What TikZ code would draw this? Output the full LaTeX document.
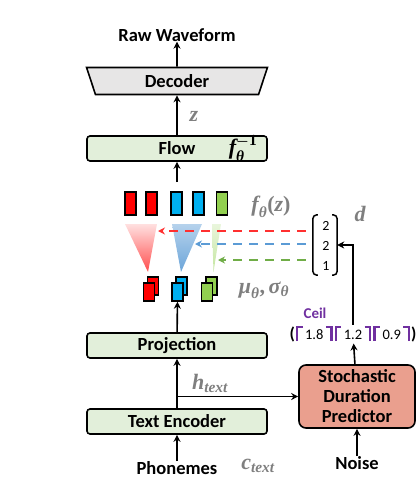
\documentclass[tikz,border=0pt]{standalone}
\usepackage{amsmath}
\usepackage[no-math]{fontspec}
\setmainfont{Carlito}
\setsansfont{Carlito}
\newfontfamily\lserif{Liberation Serif}
\newcommand\lb[1]{\text{\lserif\bfseries\itshape #1}}
\newcommand\lu[1]{\text{\lserif\bfseries #1}}
\usetikzlibrary{arrows.meta,shapes.geometric}
\definecolor{boxgreen}{HTML}{E2EFDA}
\definecolor{decgray}{HTML}{E7E6E6}
\definecolor{sdpfill}{HTML}{EA9F8E}
\definecolor{labgray}{HTML}{7F7F7F}
\definecolor{ceilc}{HTML}{7030A0}
\definecolor{barred}{HTML}{FF0000}
\definecolor{barblue}{HTML}{00B0F0}
\definecolor{bargreen}{HTML}{92D050}
\definecolor{dred}{HTML}{FF3030}
\definecolor{dblue}{HTML}{5B9BD5}
\definecolor{dgreen}{HTML}{70AD47}
\newcommand\lcl{\textcolor{ceilc}{\rule[-1.5pt]{2.2pt}{15.5pt}\rule[11.8pt]{4.5pt}{2.2pt}}}
\newcommand\rcl{\textcolor{ceilc}{\rule[11.8pt]{4.5pt}{2.2pt}\rule[-1.5pt]{2.2pt}{15.5pt}}}
\newcommand\grp[1]{\lcl\hspace{2.5pt}#1\hspace{2.5pt}\rcl}
\begin{document}
\begin{tikzpicture}[x=1pt,y=-1pt,
  txt/.style={font=\bfseries\fontsize{18.5}{20}\selectfont,inner sep=0pt},
  box/.style={draw,line width=1.6pt,rounded corners=3pt,fill=boxgreen,minimum width=180pt,minimum height=25pt,font=\bfseries\fontsize{18.5}{20}\selectfont,inner sep=0pt},
  arr/.style={-{Stealth[length=7pt,width=7pt]},line width=1.6pt},
  darr/.style={-{Stealth[length=7pt,width=7pt]},line width=1.8pt,dash pattern=on 9pt off 7pt},
  lbl/.style={text=labgray,inner sep=0pt,font=\fontsize{22}{24}\selectfont},
  bar/.style={draw,line width=1.5pt,minimum width=11pt,minimum height=23pt,inner sep=0pt},
  cell/.style={draw,line width=1.5pt,minimum width=11pt,minimum height=18pt,inner sep=0pt},
  num/.style={inner sep=0pt,font=\fontsize{14}{16}\selectfont}
]
\useasboundingbox (0,0) rectangle (416,495);

% top column
\node[txt] (raw) at (177,35) {Raw Waveform};
\node[trapezium,trapezium angle=75,shape border rotate=180,trapezium stretches=true,
  draw,line width=1.6pt,fill=decgray,minimum width=181pt,minimum height=27pt,
  font=\bfseries\fontsize{18.5}{20}\selectfont,inner sep=0pt] (dec) at (177,81) {Decoder};
\node[box] (flow) at (177,148.5) {Flow};
\node[inner sep=0pt,font=\fontsize{22}{24}\selectfont] (finv) at (243,148) {$\lb{f}_{\lb{θ}}^{\boldsymbol{-}\lu{1}}$};
\node[lbl] (zl) at (194,116) {$\lb{z}$};
\coordinate (lat) at (177,182);

% latent bars
\node[bar,fill=barred] (r1) at (130.5,203.5) {};
\node[bar,fill=barred] (r2) at (151.5,203.5) {};
\node[bar,fill=barblue] (b1) at (176.5,203.5) {};
\node[bar,fill=barblue] (b2) at (198.5,203.5) {};
\node[bar,fill=bargreen] (g1) at (222,203.5) {};
\node[lbl] (fz) at (271,207) {$\lb{f}_{\lb{θ}}\lu{(}\lb{z}\lu{)}$};

% cones
\shade[top color=red!12,bottom color=red!70] (125,224)--(157,224)--(148,272)--cycle;
\shade[top color=dblue!45,bottom color=dblue!90] (172,224)--(202,224)--(181,272)--cycle;
\shade[top color=bargreen!20,bottom color=bargreen!55] (212,224)--(221,224)--(213.5,272)--cycle;

% prior pairs
\node[cell,fill=barred] (rpb) at (153,286) {};
\node[cell,fill=barred] (rp) at (149,292) {};
\node[cell,fill=barblue] (bpb) at (181.5,286) {};
\node[cell,fill=barblue] (bp) at (177.5,292) {};
\node[cell,fill=bargreen] (gpb) at (211.5,286) {};
\node[cell,fill=bargreen] (gp) at (207,292) {};
\node[lbl] (mus) at (264,290) {$\lb{μ}_{\lb{θ}}\lu{,}\,\lb{σ}_{\lb{θ}}$};

% duration vector
\node[minimum width=24pt,minimum height=60pt,inner sep=0pt] (vec) at (325,245) {};
\node[num] (v1) at (326,226) {2};
\node[num] (v2) at (326,246) {2};
\node[num] (v3) at (326,266) {1};
\draw[line width=1.5pt,rounded corners=4pt] ([xshift=5pt]vec.north west) -- (vec.north west) -- (vec.south west) -- ([xshift=5pt]vec.south west);
\draw[line width=1.5pt,rounded corners=4pt] ([xshift=-5pt]vec.north east) -- (vec.north east) -- (vec.south east) -- ([xshift=-5pt]vec.south east);
\node[lbl] (dl) at (360,214) {$\lb{d}$};

\coordinate (dr) at (vec.west |- 0,231);
\coordinate (db) at (vec.west |- 0,244);
\coordinate (dg) at (vec.west |- 0,260);
\coordinate (er) at (158,231);
\coordinate (eb) at (195,244);
\coordinate (eg) at (218,260);
\draw[darr,dred] ([xshift=-7pt]dr) -- (er);
\draw[darr,dblue] ([xshift=-7pt]db) -- (eb);
\draw[darr,dgreen] ([xshift=-7pt]dg) -- (eg);

% ceil
\node[inner sep=0pt,text=ceilc,font=\bfseries\fontsize{15}{17}\selectfont] (ceill) at (315,313) {Ceil};
\node[inner sep=1pt,font=\fontsize{14.5}{16}\selectfont] (ceil) at (353,334)
  {{\bfseries\fontsize{17}{19}\selectfont(}\hspace{1pt}\grp{1.8}\hspace{2pt}\grp{1.2}\hspace{2pt}\grp{0.9}\hspace{1pt}{\bfseries\fontsize{17}{19}\selectfont)}};

% lower column
\node[box] (proj) at (177,345.5) {Projection};
\node[box] (te) at (177,421.5) {Text Encoder};
\node[txt] (phon) at (177,468) {Phonemes};
\node[lbl] (ct) at (258,466) {$\lb{c}_{\lb{text}}$};
\node[lbl] (ht) at (210,383) {$\lb{h}_{\lb{text}}$};
\node[draw,line width=1.6pt,rounded corners=7pt,fill=sdpfill,minimum width=116pt,minimum height=63pt,
  align=center,inner sep=0pt,font=\bfseries\fontsize{18.5}{20}\selectfont] (sdp) at (357,396.5) {Stochastic\\Duration\\Predictor};
\node[txt] (noise) at (357,463) {Noise};

% connectors
\draw[arr] (phon) -- (te);
\draw[arr] (te) -- (proj);
\draw[arr] (te.north |- sdp.west) -- (sdp.west);
\draw[arr] (noise) -- (sdp);
\draw[arr] (sdp) -- (ceil);
\draw[arr] (proj) -- (bp);
\draw[arr] (ceil.north) |- (vec.east);
\draw[arr] (lat) -- (flow);
\draw[arr] (flow) -- (dec);
\draw[arr] (dec) -- (raw);
\end{tikzpicture}
\end{document}
